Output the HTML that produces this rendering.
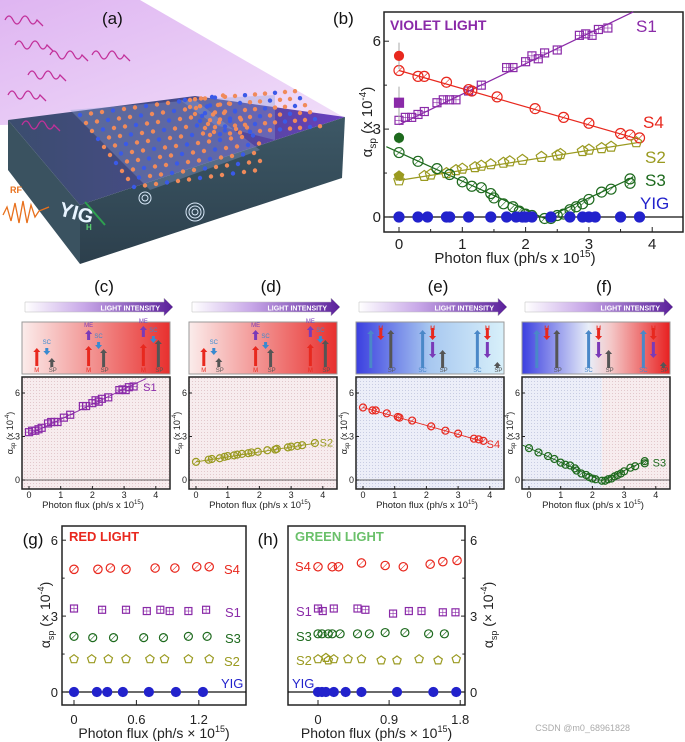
<!DOCTYPE html>
<html><head><meta charset="utf-8"><style>
html,body{margin:0;padding:0;background:#fff;}
svg{display:block;font-family:"Liberation Sans",Arial,sans-serif;}
</style></head><body>
<svg id="fig" width="685" height="742" viewBox="0 0 685 742" xmlns="http://www.w3.org/2000/svg">
<defs>
<linearGradient id="wedge" x1="0" y1="0" x2="1" y2="1"><stop offset="0" stop-color="#d9a8ef"/><stop offset="1" stop-color="#eed8f8"/></linearGradient>
<linearGradient id="slabTop" x1="0" y1="0" x2="1" y2="0"><stop offset="0" stop-color="#3b4d6e"/><stop offset="0.6" stop-color="#4a4a8e"/><stop offset="1" stop-color="#6a3fc0"/></linearGradient>
<linearGradient id="slabFront" x1="0" y1="0" x2="0" y2="1"><stop offset="0" stop-color="#3d5866"/><stop offset="1" stop-color="#2c3f4c"/></linearGradient>
<linearGradient id="intens" x1="0" x2="1"><stop offset="0" stop-color="#fff"/><stop offset="0.4" stop-color="#c8a8e8"/><stop offset="1" stop-color="#5a1f9a"/></linearGradient>
<linearGradient id="redbg" x1="0" x2="1"><stop offset="0" stop-color="#fbeceb"/><stop offset="1" stop-color="#e8302e"/></linearGradient>
<linearGradient id="bluebg" x1="0" x2="1"><stop offset="0" stop-color="#3b3fe0"/><stop offset="0.5" stop-color="#a8c8f0"/><stop offset="1" stop-color="#d8f0fa"/></linearGradient>
<linearGradient id="mixbg" x1="0" x2="1"><stop offset="0" stop-color="#3b3fe0"/><stop offset="0.45" stop-color="#e8eef8"/><stop offset="0.6" stop-color="#f4c8c8"/><stop offset="1" stop-color="#e82020"/></linearGradient>
<pattern id="dotsP" width="3" height="3" patternUnits="userSpaceOnUse"><rect width="3" height="3" fill="#f7ecee"/><rect width="1" height="1" fill="#e2c8cc"/></pattern>
<pattern id="dotsB" width="3" height="3" patternUnits="userSpaceOnUse"><rect width="3" height="3" fill="#eceef8"/><rect width="1" height="1" fill="#c8cce2"/></pattern>
</defs>

<g>
<polygon points="0,0 140,0 345,118 0,125" fill="url(#wedge)" opacity="0.85"/>
<polygon points="8,120 195,96 345,117 80,205" fill="url(#slabTop)"/>
<polygon points="8,120 80,205 80,264 8,170" fill="#3a5260"/>
<polygon points="80,205 345,117 342,178 80,264" fill="url(#slabFront)"/>
<polygon points="70,110 195,100 260,150 150,190" fill="#8aa0d8" opacity="0.35"/>
<polygon points="180,100 275,95 275,140 215,125" fill="#8aa0d8" opacity="0.35"/>
<g id="atoms"></g>
<g stroke="#c2309a" fill="none" stroke-width="1.3">
<path d="M5,20 q4,-8 8,0 q4,8 8,0 q4,-8 8,0 q4,8 8,0 l6,6"/>
<path d="M15,45 q4,-8 8,0 q4,8 8,0 q4,-8 8,0 q4,8 8,0 l6,6"/>
<path d="M50,55 q4,-8 8,0 q4,8 8,0 q4,-8 8,0 q4,8 8,0 l6,6"/>
<path d="M92,55 q4,-8 8,0 q4,8 8,0 q4,-8 8,0 q4,8 8,0 l6,6"/>
<path d="M28,75 q4,-8 8,0 q4,8 8,0 q4,-8 8,0 q4,8 8,0 l6,6"/>
<path d="M8,95 q4,-8 8,0 q4,8 8,0 q4,-8 8,0 q4,8 8,0 l6,6"/>
<path d="M22,125 q4,-8 8,0 q4,8 8,0 q4,-8 8,0 q4,8 8,0 l6,6"/>
</g>
<path d="M3,215 l4,-8 4,14 4,-18 4,20 4,-22 4,22 4,-18 4,12 4,-6 l10,-4" stroke="#e8701c" fill="none" stroke-width="1.3"/>
<text x="10" y="193" font-size="9" font-weight="bold" fill="#e8701c">RF</text>
<text x="58" y="215" font-size="20" font-weight="bold" fill="#e8f4ff" transform="rotate(15 58 215)">YIG</text>
<line x1="85" y1="202" x2="105" y2="225" stroke="#2ea050" stroke-width="2"/>
<text x="86" y="230" font-size="8" font-weight="bold" fill="#5ad070">H</text>
<g fill="none" stroke="#d8e8f8" stroke-width="1"><circle cx="145" cy="198" r="3"/><circle cx="145" cy="198" r="6"/><circle cx="195" cy="212" r="3"/><circle cx="195" cy="212" r="6"/><circle cx="195" cy="212" r="9"/></g>
<text x="102" y="24" font-size="17" fill="#111">(a)</text>
</g>

<g id="chart"></g>
<text x="630" y="731" font-size="9" fill="#aaa" text-anchor="end">CSDN @m0_68961828</text>
</svg>
<script>
const s1X=[0,0.1,0.2,0.3,0.4,0.6,0.7,0.8,0.9,1.1,1.3,1.7,1.8,2.0,2.1,2.2,2.3,2.5,2.85,2.95,3.05,3.15,3.3];
const s1Y=[3.3,3.4,3.4,3.5,3.6,3.9,4.0,4.0,4.0,4.3,4.5,5.1,5.1,5.3,5.5,5.4,5.6,5.7,6.2,6.25,6.2,6.4,6.45];
const s4X=[0,0.3,0.4,0.75,1.1,1.15,1.55,2.15,2.6,3.0,3.5,3.65,3.8];
const s4Y=[5.0,4.8,4.8,4.6,4.35,4.3,4.1,3.7,3.4,3.2,2.85,2.8,2.7];
const s2X=[0,0.4,0.5,0.75,0.9,1.0,1.2,1.3,1.45,1.65,1.75,1.95,2.25,2.5,2.55,2.9,3.0,3.2,3.35,3.75];
const s2Y=[1.25,1.4,1.45,1.5,1.6,1.65,1.7,1.75,1.8,1.85,1.9,1.95,2.05,2.1,2.15,2.25,2.3,2.35,2.4,2.55];
const s3X=[0,0.3,0.6,0.8,1.0,1.15,1.3,1.45,1.5,1.65,1.8,1.9,2.0,2.1,2.3,2.4,2.5,2.6,2.7,2.8,2.9,3.0,3.2,3.35,3.65,3.65];
const s3Y=[2.2,1.9,1.65,1.45,1.2,1.05,1.0,0.8,0.65,0.45,0.35,0.2,0.1,0.05,-0.05,-0.05,0.05,0.1,0.25,0.35,0.45,0.6,0.85,0.95,1.15,1.3];
const yigX=[0,0.3,0.45,0.75,0.8,1.1,1.45,1.7,1.85,1.95,2.0,2.1,2.4,2.7,2.9,3.0,3.1,3.5,3.8];
const s1Fit=[[0,3.15],[3.7,7.0]];
const s4Fit=[[0,5.0],[3.8,2.65]];
const s2Fit=[[0,1.25],[3.8,2.55]];
const s3Fit=[[-0.2,2.4],[2.3,-0.05],[3.7,1.35]];
const darkVals=[5.5,3.9,2.7,1.4];
const darkErr=[0.45,0.55,0.2,0.15];
const darkColors=['#e8281e','#8a2aa8','#1e6a1e','#9a9a20'];
const darkShapes=['circ','sq','circ','pent'];
const xTicksB=[0,1,2,3,4];
const yTicksB=[0,3,6];
const gS4X=[0,0.23,0.35,0.5,0.78,0.97,1.18,1.3], gS4Y=[4.85,4.85,4.9,4.85,4.9,4.9,4.95,4.95];
const gS1X=[0,0.27,0.5,0.7,0.83,0.92,1.1,1.27], gS1Y=[3.3,3.25,3.25,3.2,3.25,3.2,3.2,3.25];
const gS3X=[0,0.18,0.38,0.67,0.86,1.1,1.28], gS3Y=[2.2,2.15,2.15,2.15,2.15,2.2,2.2];
const gS2X=[0,0.17,0.33,0.5,0.73,0.87,1.1,1.3], gS2Y=[1.3,1.3,1.3,1.3,1.3,1.3,1.3,1.3];
const gYigX=[0,0.22,0.32,0.47,0.72,0.98,1.24];
const xTicksG=[0,0.6,1.2];
const hS4X=[0,0.18,0.26,0.55,0.85,1.08,1.42,1.58,1.76], hS4Y=[4.95,4.95,4.95,5.1,5.0,4.95,5.05,5.15,5.2];
const hS1X=[0,0.06,0.2,0.5,0.6,0.95,1.15,1.31,1.58,1.74], hS1Y=[3.3,3.2,3.3,3.3,3.25,3.1,3.2,3.2,3.15,3.15];
const hS3X=[0,0.05,0.13,0.18,0.28,0.5,0.65,0.85,1.1,1.4,1.6], hS3Y=[2.3,2.3,2.3,2.3,2.3,2.3,2.3,2.35,2.35,2.3,2.3];
const hS2X=[0,0.1,0.13,0.2,0.38,0.55,0.8,1.0,1.28,1.52,1.75], hS2Y=[1.3,1.35,1.25,1.3,1.3,1.3,1.25,1.25,1.3,1.25,1.3];
const hYigX=[0,0.05,0.1,0.2,0.35,0.55,1.0,1.46,1.75];
const xTicksH=[0,0.9,1.8];

const NS='http://www.w3.org/2000/svg';
const root=document.getElementById('chart');
function el(tag,attrs,parent){const e=document.createElementNS(NS,tag);for(const k in attrs)e.setAttribute(k,attrs[k]);(parent||root).appendChild(e);return e;}
function txt(x,y,s,size,fill,parent,anchor,extra){const t=el('text',Object.assign({x:x,y:y,'font-size':size,fill:fill||'#111','text-anchor':anchor||'middle'},extra||{}),parent);t.textContent=s;return t;}
const COL={S1:'#8a2aa8',S2:'#9a9a20',S3:'#1e6a1e',S4:'#e8281e',YIG:'#2222cc'};
function marker(g,shape,cx,cy,r,color,filled){
  let m;
  if(shape==='sq'){m=el('rect',{x:cx-r,y:cy-r,width:2*r,height:2*r,fill:filled?color:'none',stroke:color,'stroke-width':1.2},g);
    if(!filled){el('line',{x1:cx,y1:cy-r,x2:cx,y2:cy+r,stroke:color,'stroke-width':0.6},g);el('line',{x1:cx-r,y1:cy,x2:cx+r,y2:cy,stroke:color,'stroke-width':0.6},g);}}
  else if(shape==='pent'){let p=[];for(let i=0;i<5;i++){const a=-Math.PI/2+i*2*Math.PI/5;p.push((cx+r*1.1*Math.cos(a)).toFixed(1)+','+(cy+r*1.1*Math.sin(a)).toFixed(1));}
    m=el('polygon',{points:p.join(' '),fill:filled?color:'none',stroke:color,'stroke-width':1.2},g);}
  else {m=el('circle',{cx:cx,cy:cy,r:r,fill:filled?color:'none',stroke:color,'stroke-width':1.2},g);
    if(!filled&&r>3)el('line',{x1:cx-r*0.7,y1:cy+r*0.7,x2:cx+r*0.7,y2:cy-r*0.7,stroke:color,'stroke-width':0.6},g);}
  
  
  return m;
}
function series(g,X,Y,xs,ys,shape,color,r,filled){const sg=el('g',{},g);for(let i=0;i<X.length;i++)marker(sg,shape,xs(X[i]),ys(Y?Y[i]:0),r,color,filled);return sg;}
function fit(g,pts,xs,ys,color,w){const l=el('polyline',{points:pts.map(p=>xs(p[0])+','+ys(p[1])).join(' '),fill:'none',stroke:color,'stroke-width':w||1.2},g);return l;}
function axesBox(g,x0,y0,x1,y1,fill){const r=el('rect',{x:x0,y:y0,width:x1-x0,height:y1-y0,fill:fill||'none',stroke:'#222','stroke-width':1.5},g);return r;}

(function(){
  const g=el('g',{});
  
  
  const L=384,R=683,T=12,B=232;
  const xs=v=>399+v*63.3, ys=v=>217-v*29.3;
  axesBox(g,L,T,R,B);
  el('line',{x1:L,y1:ys(0),x2:R,y2:ys(0),stroke:'#111','stroke-width':1.2},g);
  xTicksB.forEach(v=>{el('line',{x1:xs(v),y1:B,x2:xs(v),y2:B-5,stroke:'#222'},g);txt(xs(v),249,String(v),15,'#222',g);});
  [0.5,1.5,2.5,3.5].forEach(v=>el('line',{x1:xs(v),y1:B,x2:xs(v),y2:B-3,stroke:'#222'},g));
  yTicksB.forEach(v=>{el('line',{x1:L,y1:ys(v),x2:L+5,y2:ys(v),stroke:'#222'},g);txt(L-3,ys(v)+5,String(v),15,'#222',g,'end');});
  [1.5,4.5].forEach(v=>el('line',{x1:L,y1:ys(v),x2:L+3,y2:ys(v),stroke:'#222'},g));
  const xt=txt(515,263,'Photon flux (ph/s x 10',15,'#222',g);
  el('tspan',{'font-size':10,dy:-6},xt).textContent='15';
  el('tspan',{dy:6},xt).textContent=')';
  const yt=txt(0,0,'α',15,'#222',g,'middle',{transform:'translate(372,122) rotate(-90)'});
  el('tspan',{'font-size':10,dy:4},yt).textContent='sp';
  el('tspan',{dy:-4},yt).textContent=' (x 10';
  el('tspan',{'font-size':10,dy:-6},yt).textContent='-4';
  el('tspan',{dy:6},yt).textContent=')';
  txt(390,30,'VIOLET LIGHT',14,COL.S1,g,'start',{'font-weight':'bold'});
  txt(333,24,'(b)',17,'#111',g,'start');
  fit(g,s1Fit,xs,ys,COL.S1);fit(g,s4Fit,xs,ys,COL.S4);fit(g,s2Fit,xs,ys,COL.S2);fit(g,s3Fit,xs,ys,COL.S3);
  series(g,s1X,s1Y,xs,ys,'sq',COL.S1,4);
  series(g,s4X,s4Y,xs,ys,'circ',COL.S4,5);
  series(g,s2X,s2Y,xs,ys,'pent',COL.S2,5);
  series(g,s3X,s3Y,xs,ys,'circ',COL.S3,5);
  series(g,yigX,null,xs,ys,'circ',COL.YIG,5,true);
  darkVals.forEach((v,i)=>{el('line',{x1:xs(0),y1:ys(v-darkErr[i]),x2:xs(0),y2:ys(v+darkErr[i]),stroke:'#aaa','stroke-width':1},g);marker(g,darkShapes[i],xs(0),ys(v),4.5,darkColors[i],true);});
  txt(636,32,'S1',17,COL.S1,g,'start');txt(643,128,'S4',17,COL.S4,g,'start');txt(645,163,'S2',17,COL.S2,g,'start');txt(645,186,'S3',17,COL.S3,g,'start');txt(640,209,'YIG',17,COL.YIG,g,'start');
})();

const small=[
 {lab:'(c)',x0:29,X:s1X,Y:s1Y,fitp:s1Fit,shape:'sq',col:COL.S1,name:'S1',bg:'url(#redbg)',pbg:'url(#dotsP)',ly:6.4},
 {lab:'(d)',x0:196,X:s2X,Y:s2Y,fitp:s2Fit,shape:'circ',col:COL.S2,name:'S2',bg:'url(#redbg)',pbg:'url(#dotsP)',ly:2.6},
 {lab:'(e)',x0:363,X:s4X,Y:s4Y,fitp:s4Fit,shape:'circ',col:COL.S4,name:'S4',bg:'url(#bluebg)',pbg:'url(#dotsB)',ly:2.5},
 {lab:'(f)',x0:529,X:s3X,Y:s3Y,fitp:s3Fit,shape:'circ',col:COL.S3,name:'S3',bg:'url(#mixbg)',pbg:'split',ly:1.2}
];
small.forEach((p,k)=>{
  const g=el('g',{});
  
  
  const L=p.x0-7,R=p.x0+141,T=377,B=489;
  const xs=v=>p.x0+v*31.7, ys=v=>480-v*14.5;
  txt(p.x0+75,292,p.lab,17,'#111',g);
  const ar=el('polygon',{points:`${L+3},302 ${R-6},302 ${R-6},298 ${R+3},307 ${R-6},316 ${R-6},312 ${L+3},312`,fill:'url(#intens)',stroke:'#bbb','stroke-width':0.5},g);
  
  
  txt(R-10,310.5,'LIGHT INTENSITY',7,'#fff',g,'end',{'font-weight':'bold'});
  const sb=el('rect',{x:L,y:322,width:R-L,height:52,fill:p.bg,stroke:'#999','stroke-width':1},g);
  
  
  [0.1,0.45,0.82].forEach((f,j)=>{
    const cx=L+(R-L)*f;
    const arr=(x,y1,y2,c)=>{const dir=y2<y1?-1:1;el('line',{x1:x,y1:y1,x2:x,y2:y2-dir*3,stroke:c,'stroke-width':3},g);el('polygon',{points:`${x-3.5},${y2-dir*4} ${x+3.5},${y2-dir*4} ${x},${y2}`,fill:c},g);};
    if(k<2){arr(cx,366,348-j*2,'#e8281e');txt(cx,372,'M',6,'#e8281e',g);
      arr(cx+10,348-j*6,355-j*6,'#3a8ad0');txt(cx+10,344-j*6,'SC',6,'#3a8ad0',g);
      arr(cx+15,367,358-j*9,'#555');txt(cx+16,372,'SP',6,'#555',g);
      if(j>0){arr(cx,343-j*3,334-j*4,'#7a3ab8');txt(cx,331-j*4,'ME',6,'#7a3ab8',g);}}
    else{arr(cx,368,330,'#4a88c8');if(j>0)txt(cx,372,'SC',6,'#4a88c8',g);
      arr(cx+10,328,340,'#e8281e');txt(cx+10,330,'M',6,'#e8281e',g);
      if(j>0)arr(cx+10,342,358,'#7a3ab8');
      arr(cx+20,368,362-(2-j)*12+(j===0?-8:0),'#555');txt(cx+21,372,'SP',6,'#555',g);}
  });
  if(p.pbg==='split'){el('rect',{x:L,y:T,width:(p.x0+2.3*31.7)-L,height:B-T,fill:'url(#dotsB)'},g);el('rect',{x:p.x0+2.3*31.7,y:T,width:R-(p.x0+2.3*31.7),height:B-T,fill:'url(#dotsP)'},g);axesBox(g,L,T,R,B);}
  else axesBox(g,L,T,R,B,p.pbg);
  el('line',{x1:L,y1:ys(0),x2:R,y2:ys(0),stroke:'#333','stroke-width':0.8},g);
  xTicksB.forEach(v=>{el('line',{x1:xs(v),y1:B,x2:xs(v),y2:B-3,stroke:'#222'},g);txt(xs(v),498,String(v),9,'#222',g);});
  yTicksB.forEach(v=>{el('line',{x1:L,y1:ys(v),x2:L+3,y2:ys(v),stroke:'#222'},g);txt(L-2,ys(v)+3,String(v),9,'#222',g,'end');});
  const xt=txt(p.x0+64,508,'Photon flux (ph/s x 10',9.5,'#222',g);
  el('tspan',{'font-size':6,dy:-4},xt).textContent='15';el('tspan',{dy:4},xt).textContent=')';
  const yt=txt(0,0,'α',9,'#222',g,'middle',{transform:`translate(${L-9},433) rotate(-90)`});
  el('tspan',{'font-size':6,dy:2},yt).textContent='sp';el('tspan',{dy:-2},yt).textContent=' (x 10';
  el('tspan',{'font-size':6,dy:-4},yt).textContent='-4';el('tspan',{dy:4},yt).textContent=')';
  fit(g,p.fitp.map(q=>[Math.max(q[0],-0.2),q[1]]),xs,ys,p.col,0.9);
  series(g,p.X,p.Y,xs,ys,p.shape,p.col,3.5);
  txt(xs(p.name==='S1'?3.6:3.9),ys(p.ly)+4,p.name,11,p.col,g,'start');
});

function flat(cfg){
  const g=el('g',{});
  
  
  const xs=v=>cfg.x0+v*cfg.sc, ys=v=>692-v*25.3;
  axesBox(g,cfg.L,526,cfg.R,705);
  el('line',{x1:cfg.L,y1:ys(0),x2:cfg.R,y2:ys(0),stroke:'#111','stroke-width':1.2},g);
  cfg.ticks.forEach(v=>{el('line',{x1:xs(v),y1:705,x2:xs(v),y2:700,stroke:'#222'},g);txt(xs(v),724,String(v),13,'#222',g);});
  const yax=cfg.right?cfg.R:cfg.L, dd=cfg.right?-4:4;
  yTicksB.forEach(v=>{el('line',{x1:yax,y1:ys(v),x2:yax+dd,y2:ys(v),stroke:'#222'},g);txt(cfg.right?yax+5:yax-4,ys(v)+5,String(v),13,'#222',g,cfg.right?'start':'end');});
  [1.5,4.5].forEach(v=>el('line',{x1:yax,y1:ys(v),x2:yax+dd/1.5,y2:ys(v),stroke:'#222'},g));
  const xt=txt((cfg.L+cfg.R)/2,738,'Photon flux (ph/s × 10',14,'#222',g);
  el('tspan',{'font-size':9,dy:-6},xt).textContent='15';el('tspan',{dy:6},xt).textContent=')';
  const yt=txt(0,0,'α',14,'#222',g,'middle',{transform:`translate(${cfg.yl},615) rotate(-90)`});
  el('tspan',{'font-size':9,dy:4},yt).textContent='sp';el('tspan',{dy:-4},yt).textContent=' (× 10';
  el('tspan',{'font-size':9,dy:-6},yt).textContent='-4';el('tspan',{dy:6},yt).textContent=')';
  txt(cfg.lx,545,cfg.lab,17,'#111',g);
  txt(cfg.L+7,541,cfg.title,13,cfg.tcol,g,'start',{'font-weight':'bold'});
  series(g,cfg.d[0],cfg.d[1],xs,ys,'circ',COL.S4,4.2);
  series(g,cfg.d[2],cfg.d[3],xs,ys,'sq',COL.S1,3.5);
  series(g,cfg.d[4],cfg.d[5],xs,ys,'circ',COL.S3,4);
  series(g,cfg.d[6],cfg.d[7],xs,ys,'pent',COL.S2,4);
  series(g,cfg.d[8],null,xs,ys,'circ',COL.YIG,4.5,true);
  cfg.labs.forEach(a=>txt(a[0],a[1],a[2],13,COL[a[2]],g,'start'));
}
flat({name:'panel-g-red-light',L:62,R:246,x0:74,sc:104,ticks:xTicksG,yl:50,lab:'(g)',lx:33,title:'RED LIGHT',tcol:'#e8281e',
  d:[gS4X,gS4Y,gS1X,gS1Y,gS3X,gS3Y,gS2X,gS2Y,gYigX],
  labs:[[224,574,'S4'],[225,617,'S1'],[225,643,'S3'],[224,666,'S2'],[221,688,'YIG']]});
flat({name:'panel-h-green-light',L:288,R:465,x0:318,sc:79,ticks:xTicksH,yl:493,lab:'(h)',lx:268,title:'GREEN LIGHT',tcol:'#6ac06a',right:true,
  d:[hS4X,hS4Y,hS1X,hS1Y,hS3X,hS3Y,hS2X,hS2Y,hYigX],
  labs:[[295,571,'S4'],[296,616,'S1'],[296,641,'S3'],[296,665,'S2'],[292,688,'YIG']]});

(function(){
  const g=document.getElementById('atoms');
  for(let i=0;i<14;i++)for(let j=0;j<10;j++){
    const x=80+i*11+j*6, y=115+j*8-i*1.5;
    if(x>260)continue;
    el('circle',{cx:x,cy:y,r:2.2,fill:(i+j)%3===0?'#3a5ae8':'#f08a5a'},g);
  }
  for(let i=0;i<12;i++)for(let j=0;j<6;j++){
    const x=185+i*10+j*5, y=100+j*7-i*0.8;
    el('circle',{cx:x,cy:y,r:2.2,fill:(i+j)%3===0?'#3a5ae8':'#f08a5a'},g);
  }
})();
</script>
</body></html>
